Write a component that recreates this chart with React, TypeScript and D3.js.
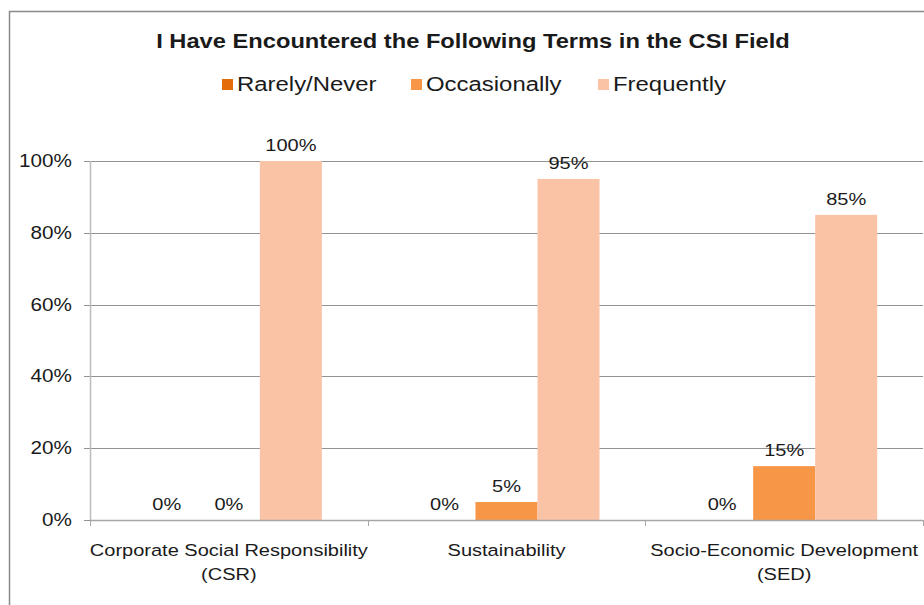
import React from "react";
import * as d3 from "d3";

const categories: string[][] = [
  ["Corporate Social Responsibility", "(CSR)"],
  ["Sustainability"],
  ["Socio-Economic Development", "(SED)"],
];
const seriesNames = ["Rarely/Never", "Occasionally", "Frequently"];
const rarely = [0, 0, 0];
const occasionally = [0, 5, 15];
const frequently = [100, 95, 85];
const yTicks = [0, 20, 40, 60, 80, 100];
const colors = ["#E46C0A", "#F79646", "#FAC3A6"];
const title = "I Have Encountered the Following Terms in the CSI Field";

const W = 924;
const H = 605;
const FONT = "'Liberation Sans', Arial, sans-serif";
const SX = 1.15;

function T({ x, y, anchor = "middle", size = 18, weight = "normal", children }: any) {
  return (
    <text
      transform={`translate(${x},${y}) scale(${SX},1)`}
      textAnchor={anchor}
      fontSize={size}
      fontWeight={weight}
      fontFamily={FONT}
      fill="#1a1a1a"
    >
      {children}
    </text>
  );
}

export default function App() {
  const series = [rarely, occasionally, frequently];
  const left = 90, right = 923, top = 161, bottom = 520;
  const x0 = d3.scaleBand<number>().domain(d3.range(categories.length)).range([left, right]).paddingInner(0).paddingOuter(0);
  const bw = x0.bandwidth();
  const groupW = bw * 0.67;
  const x1 = d3.scaleBand<number>().domain(d3.range(series.length)).range([0, groupW]);
  const y = d3.scaleLinear().domain([0, 100]).range([bottom, top]);
  const legendX = [222, 411, 598];

  return (
    <svg width={W} height={H} style={{ position: "absolute", left: 0, top: 0, background: "#fff" }}>
      <rect x={0} y={0} width={W} height={H} fill="#fff" />
      <rect x={9.5} y={11.5} width={W + 20} height={H + 20} fill="#fff" stroke="#8a8a8a" strokeWidth={1.5} />
      <T x={473} y={48} size={20.6} weight="bold">{title}</T>
      {seriesNames.map((n, i) => (
        <g key={n}>
          <rect x={legendX[i]} y={79} width={11} height={11} fill={colors[i]} />
          <T x={legendX[i] + 15} y={91} anchor="start" size={20.8}>{n}</T>
        </g>
      ))}
      {yTicks.filter((t) => t > 0).map((t) => (
        <line key={t} x1={left} x2={right} y1={Math.round(y(t)) + 0.5} y2={Math.round(y(t)) + 0.5} stroke="#929292" strokeWidth={1} />
      ))}
      {yTicks.map((t) => (
        <g key={"t" + t}>
          <line x1={84} x2={left} y1={Math.round(y(t)) + 0.5} y2={Math.round(y(t)) + 0.5} stroke="#929292" />
          <T x={72} y={y(t) + 6} anchor="end" size={18}>{t + "%"}</T>
        </g>
      ))}
      <line x1={left + 0.5} x2={left + 0.5} y1={top} y2={bottom} stroke="#bdbdbd" strokeWidth={1.5} />
      {categories.map((c, ci) => {
        const gx = (x0(ci) as number) + (bw - groupW) / 2;
        return (
          <g key={ci}>
            {series.map((s, si) => {
              const v = s[ci];
              const bx = gx + (x1(si) as number);
              return (
                <g key={si}>
                  {v > 0 && (
                    <rect x={bx} y={y(v)} width={x1.bandwidth()} height={bottom - y(v)} fill={colors[si]} />
                  )}
                  <T x={bx + x1.bandwidth() / 2} y={y(v) - 10} size={17.4}>{v + "%"}</T>
                </g>
              );
            })}
            {c.map((line, li) => (
              <T key={li} x={(x0(ci) as number) + bw / 2} y={556 + li * 24} size={17.4}>{line}</T>
            ))}
          </g>
        );
      })}
      <line x1={left} x2={right} y1={bottom + 0.5} y2={bottom + 0.5} stroke="#a6a6a6" strokeWidth={1.5} />
      {d3.range(categories.length + 1).map((i) => {
        const xx = Math.round(left + i * bw) + 0.5;
        return <line key={i} x1={xx} x2={xx} y1={bottom} y2={bottom + 6} stroke="#a6a6a6" />;
      })}
    </svg>
  );
}
